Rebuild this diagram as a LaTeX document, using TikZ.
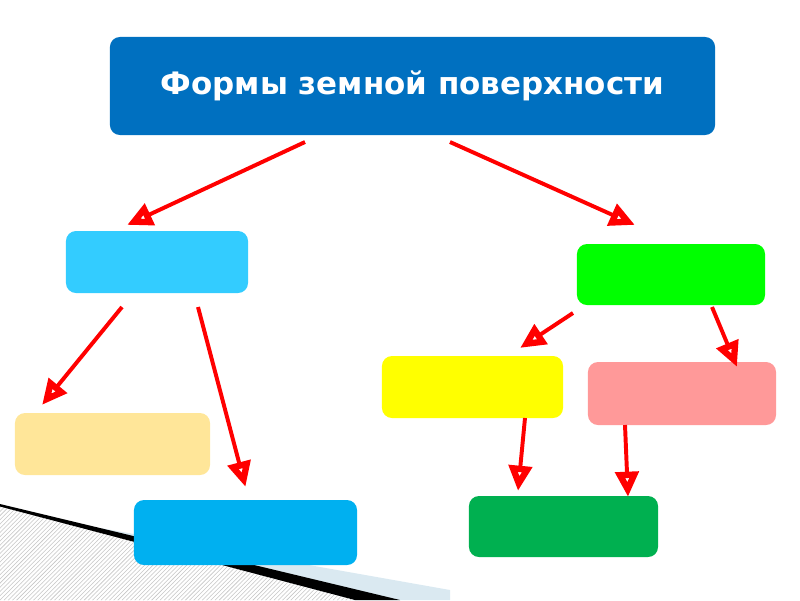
\documentclass[tikz,border=0pt]{standalone}
\usepackage{fontspec}
\setmainfont{DejaVu Sans}
\usepackage{tikz}
\usetikzlibrary{arrows.meta}
\usetikzlibrary{positioning}
\usetikzlibrary{calc}
\usetikzlibrary{patterns}
\definecolor{titleblue}{RGB}{0,112,192}
\definecolor{skycyan}{RGB}{51,204,255}
\definecolor{lightgreen}{RGB}{0,255,0}
\definecolor{sandtan}{RGB}{255,230,153}
\definecolor{seablue}{RGB}{0,176,240}
\definecolor{lemon}{RGB}{255,255,0}
\definecolor{rosepink}{RGB}{255,153,153}
\definecolor{darkgreen}{RGB}{0,176,80}
\definecolor{paleblue}{RGB}{218,233,241}
\tikzset{
    box/.style={draw=none, rounded corners=0.25cm, inner sep=0pt, outer sep=0pt},
    redarrow/.style={draw=red, line width=2.8pt,
        -{Triangle[open, length=18pt, width=16pt, line width=4.5pt]}},
}
\begin{document}
\begin{tikzpicture}[x=0.025cm, y=-0.025cm]
	\useasboundingbox (0,0) rectangle (800,600);
	% corner decoration
	\fill[paleblue] (100,528) -- (450,590) -- (450,600) -- (300,600) -- cycle;
	\fill[white] (0,600) -- (0,506) -- (355,600) -- cycle;
	\fill[pattern=north east lines, pattern color=gray!45] (0,600) -- (0,506) -- (355,600) -- cycle;
	\fill[black] (0,504) -- (400,600) -- (355,600) -- (0,506.5) -- cycle;
	% boxes
	\node[box, fill=titleblue, minimum width=15.125cm, minimum height=2.45cm] (forms) at (412.5,86)
		{\fontsize{22}{26}\selectfont\bfseries\color{white}Формы земной поверхности};
	\node[box, fill=skycyan, minimum width=4.55cm, minimum height=1.55cm] (plains) at (157,262) {};
	\node[box, fill=lightgreen, minimum width=4.7cm, minimum height=1.525cm] (mountains) at (671,274.5) {};
	\node[box, fill=sandtan, minimum width=4.875cm, minimum height=1.55cm] (lowlands) at (112.5,444) {};
	\node[box, fill=seablue, minimum width=5.575cm, minimum height=1.625cm] (uplands) at (245.5,532.5) {};
	\node[box, fill=lemon, minimum width=4.525cm, minimum height=1.55cm] (lowmount) at (472.5,387) {};
	\node[box, fill=rosepink, minimum width=4.7cm, minimum height=1.575cm] (highmount) at (682,393.5) {};
	\node[box, fill=darkgreen, minimum width=4.725cm, minimum height=1.525cm] (midmount) at (563.5,526.5) {};
	% arrows
	\draw[redarrow] ($(forms.south)+(-107.5,7)$) -- ($(plains.north)+(-30,-6)$);
	\draw[redarrow] ($(forms.south)+(37.5,7)$) -- ($(mountains.north)+(-36,-19)$);
	\draw[redarrow] ($(plains.south)+(-35,14)$) -- ($(lowlands.north)+(-70.5,-8)$);
	\draw[redarrow] ($(plains.south)+(41,14)$) -- ($(uplands.north)+(0,-13)$);
	\draw[redarrow] ($(mountains.south)+(-98,8)$) -- ($(lowmount.north)+(47.5,-8)$);
	\draw[redarrow] ($(mountains.south)+(41,2)$) -- ($(highmount.north)+(55,5)$);
	\draw[redarrow] ($(lowmount.south)+(52.5,0)$) -- ($(midmount.north)+(-45.5,-5)$);
	\draw[redarrow] ($(highmount.south)+(-57,0)$) -- ($(midmount.north)+(64.5,1)$);
\end{tikzpicture}
\end{document}
